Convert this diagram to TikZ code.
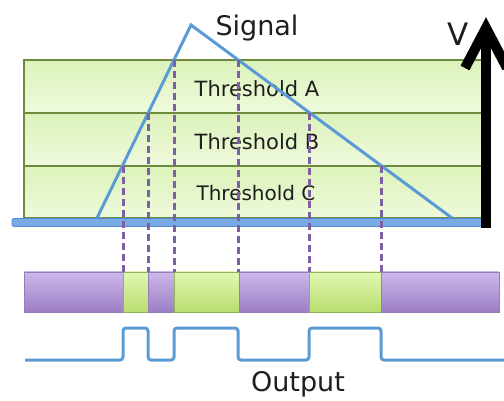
\documentclass[tikz,border=0pt]{standalone}
\usepackage{fontspec}
\setmainfont{DejaVu Sans}
\definecolor{bandedge}{HTML}{6E8B3D}
\definecolor{sigblue}{HTML}{5B9BD5}
\definecolor{dashpurple}{HTML}{7E5FA3}
\tikzset{
  thband/.style={draw=bandedge, line width=1.3pt, top color={rgb,255:red,220;green,242;blue,186}, bottom color={rgb,255:red,238;green,250;blue,220}},
  purpseg/.style={draw={rgb,255:red,150;green,125;blue,185}, line width=0.6pt, top color={rgb,255:red,204;green,184;blue,234}, bottom color={rgb,255:red,155;green,126;blue,196}},
  greenseg/.style={draw={rgb,255:red,140;green,180;blue,90}, line width=0.6pt, top color={rgb,255:red,226;green,247;blue,178}, bottom color={rgb,255:red,184;green,222;blue,112}},
  sigline/.style={draw=sigblue, line width=3pt},
  dashline/.style={draw=dashpurple, line width=3pt, dash pattern=on 7pt off 4pt},
  thlabel/.style={font=\fontsize{21}{22}\selectfont, text={rgb,255:red,30;green,30;blue,30}},
  biglabel/.style={font=\fontsize{27}{30}\selectfont, text={rgb,255:red,30;green,30;blue,30}}
}
\begin{document}
\begin{tikzpicture}[x=1pt,y=-1pt]
\useasboundingbox (0,0) rectangle (504,401);
% threshold bands
\draw[thband] (24,60) rectangle (482,113);
\draw[thband] (24,113) rectangle (482,166);
\draw[thband] (24,166) rectangle (482,218);
\node[thlabel] (thA) at (257,89) {Threshold A};
\node[thlabel] (thB) at (257,142) {Threshold B};
\node[thlabel, font=\fontsize{20}{22}\selectfont] (thC) at (256,193) {Threshold C};
% signal triangle
\coordinate (s0) at (97,218);
\coordinate (peak) at (191,25);
\coordinate (s1) at (452,218);
\draw[sigline, line join=miter] (s0) -- (peak) -- (s1);
\node[biglabel] (signal) at (257,28) {Signal};
% crossing points
\coordinate (c1) at (123,166);
\coordinate (c2) at (148,113);
\coordinate (c3) at (174,60);
\coordinate (c4) at (238,60);
\coordinate (c5) at (309,113);
\coordinate (c6) at (381,166);
% baseline
\draw[draw={rgb,255:red,80;green,140;blue,210}, fill={rgb,255:red,120;green,170;blue,228}, line width=0.8pt, rounded corners=2pt] (12,218.5) rectangle (482,226.5);
% output bar
\draw[purpseg] (24,272) rectangle (123,312);
\draw[greenseg] (123,272) rectangle (148,312);
\draw[purpseg] (148,272) rectangle (174,312);
\draw[greenseg] (174,272) rectangle (239,312);
\draw[purpseg] (239,272) rectangle (309,312);
\draw[greenseg] (309,272) rectangle (381,312);
\draw[purpseg] (381,272) rectangle (499,312);
% dashed lines
\foreach \c/\x in {c1/123,c2/148,c3/174,c4/238,c5/309,c6/381}{
  \draw[dashline] (\c) -- (\x,272);
}
% output waveform
\draw[sigline, rounded corners=3pt] (25,360) -- (123,360) -- (123,328) -- (148,328) -- (148,360) -- (174,360) -- (174,328) -- (238,328) -- (238,360) -- (309,360) -- (309,328) -- (381,328) -- (381,360) -- (506,360);
\node[biglabel] (output) at (298,384) {Output};
% V axis
\draw[line width=10pt] (486,228) -- (486,30);
\draw[line width=10pt, line join=miter, miter limit=10] (465,68) -- (486,28) -- (507,68);
\node[biglabel, font=\fontsize{31}{32}\selectfont] (V) at (458,34) {V};
\end{tikzpicture}
\end{document}
